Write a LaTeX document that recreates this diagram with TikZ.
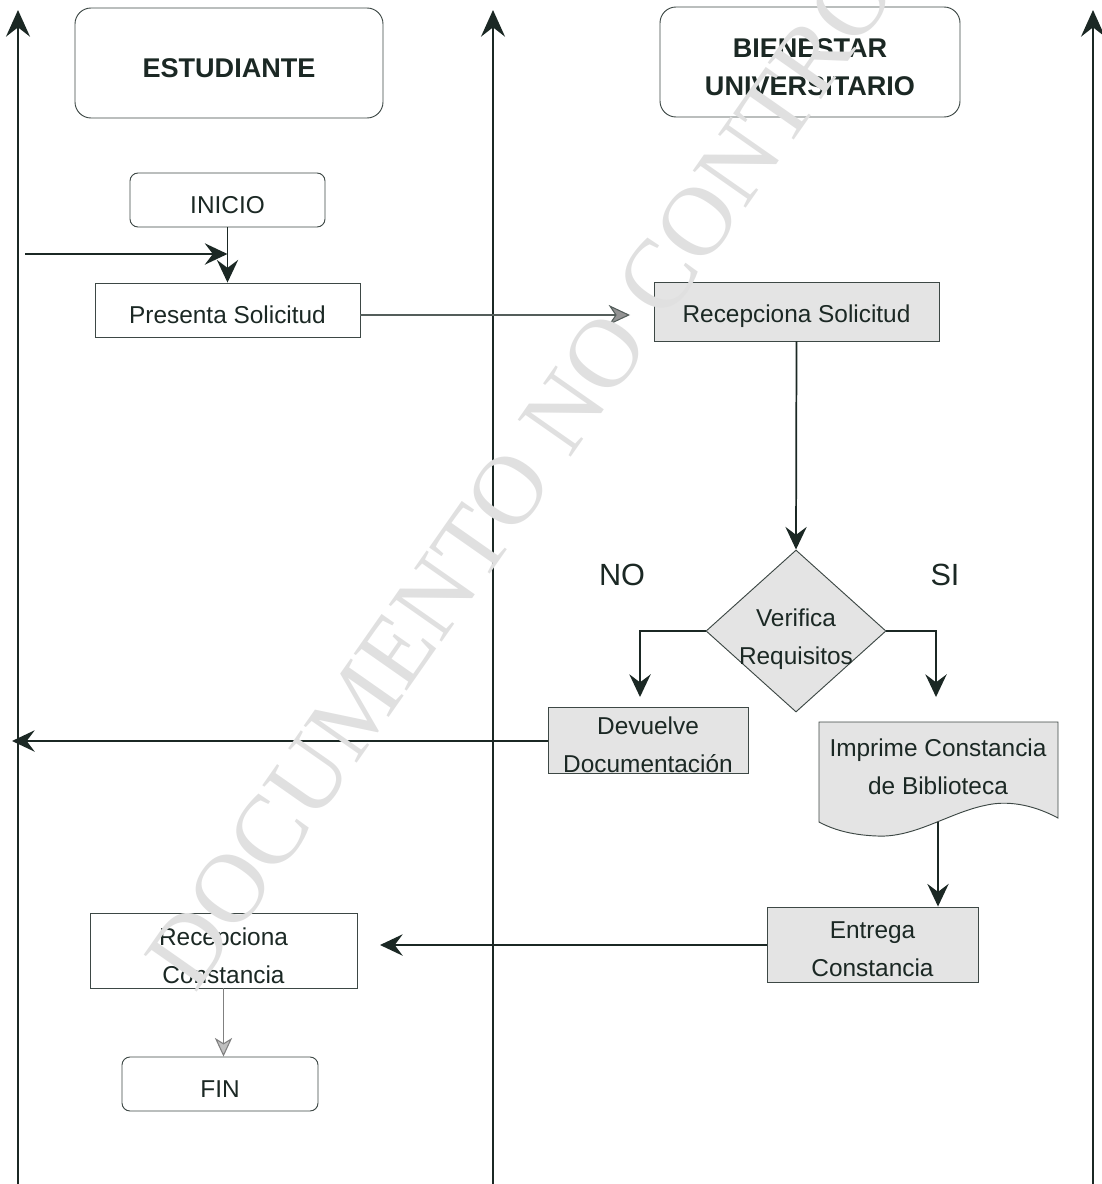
\documentclass[tikz,border=0pt]{standalone}
\usepackage{fontspec}
\setmainfont{Liberation Sans}
\newfontfamily\wmfont{Liberation Serif}
\usetikzlibrary{arrows.meta,shapes.geometric}
\definecolor{ink}{HTML}{1B2824}
\definecolor{boxgray}{HTML}{E4E4E4}
\definecolor{wmgray}{HTML}{E0E0E0}
\begin{document}
\begin{tikzpicture}[x=0.75pt,y=-0.75pt,
  txt/.style={font=\fontsize{18.3}{28.5}\selectfont, align=center, text=ink},
  intext/.style={txt, inner sep=0pt, yshift=-3.8pt},
  plainbox/.style={draw=ink!85, line width=0.7pt, fill=white, inner sep=0pt},
  graybox/.style={plainbox, fill=boxgray},
  roundbox/.style={plainbox, rounded corners=6pt},
  headbox/.style={plainbox, rounded corners=12pt, minimum height=82.5pt},
  headtext/.style={intext, font=\bfseries\fontsize{20.3}{28.5}\selectfont},
  flow/.style={draw=ink, line width=1.3pt, -{Stealth[length=17pt,width=16pt,inset=6pt]}},
  lane/.style={draw=ink, line width=1.6pt, -{Stealth[length=20pt,width=18pt,inset=7pt]}},
  lightflow/.style={draw=ink!75, line width=0.8pt, -{Stealth[length=16pt,width=15pt,inset=5pt,fill=gray!85]}},
  paleflow/.style={draw=gray, line width=0.8pt, -{Stealth[length=14pt,width=13pt,inset=4pt,fill=gray!50]}},
  wm/.style={font=\wmfont\fontsize{74}{74}\selectfont, text=wmgray, inner sep=0pt}]

\useasboundingbox (0,0) rectangle (1101,1184);

% swimlane boundaries
\coordinate (l1b) at (18,1184);   \coordinate (l1t) at (18,10);
\coordinate (l2b) at (493,1184);  \coordinate (l2t) at (493,10);
\coordinate (l3b) at (1093,1184); \coordinate (l3t) at (1093,10);
\draw[lane] (l1b) -- (l1t);
\draw[lane] (l2b) -- (l2t);
\draw[lane] (l3b) -- (l3t);

% lane headers
\node[headbox, minimum width=231pt, label={[headtext]center:ESTUDIANTE}] (est) at (229,63) {};
\node[headbox, minimum width=225pt, label={[headtext]center:BIENESTAR\\UNIVERSITARIO}] (bien) at (810,62) {};

% student lane
\node[roundbox, minimum width=146.25pt, minimum height=40.5pt,
      label={[intext]center:INICIO}] (ini) at (227.5,200) {};
\node[plainbox, minimum width=198.75pt, minimum height=40.5pt,
      label={[intext]center:Presenta Solicitud}] (pres) at (227.5,310) {};
\node[plainbox, minimum width=200.25pt, minimum height=56.25pt,
      label={[intext]center:Recepciona\\Constancia}] (recc) at (223.5,950.5) {};
\node[roundbox, minimum width=147pt, minimum height=40.5pt,
      label={[intext]center:FIN}] (fin) at (220,1084) {};

% welfare office lane
\node[graybox, minimum width=213.75pt, minimum height=44.25pt,
      label={[intext]center:Recepciona Solicitud}] (recs) at (796.5,311.5) {};
\node[graybox, diamond, minimum width=135pt, minimum height=121.5pt,
      label={[intext, yshift=-2pt]center:Verifica\\Requisitos}] (dia) at (796,631) {};
\node[txt, font=\fontsize{23}{28}\selectfont] (no) at (622,575) {NO};
\node[txt, font=\fontsize{23}{28}\selectfont] (si) at (945,575) {SI};
\node[graybox, minimum width=150pt, minimum height=49.5pt,
      label={[intext]center:Devuelve\\Documentación}] (dev) at (648,740) {};

% printed document
\draw[draw=ink!85, line width=0.7pt, fill=boxgray]
  (819,722) -- (1058,722) -- (1058,818)
  .. controls (1030,803) and (1005,801) .. (987,805)
  .. controls (950,812) and (915,838) .. (877,836)
  .. controls (850,835) and (832,829) .. (819,822) -- cycle;
\node[txt] (imp) at (938,767) {Imprime Constancia\\de Biblioteca};
\coordinate (impb) at (938,822);

\node[graybox, minimum width=158.25pt, minimum height=56.25pt,
      label={[intext]center:Entrega\\Constancia}] (ent) at (872.5,944.5) {};

% connectors
\coordinate (inl) at (25,254);
\draw[flow] (ini.south) -- (pres.north);
\draw[flow] (inl) -- (inl -| ini.south);
\coordinate (rsend) at (630,315);
\draw[lightflow] (pres.east |- rsend) -- (rsend);
\draw[flow] (recs.south) -- (dia.north);
\coordinate (noend) at (640,697);
\coordinate (siend) at (936,697);
\draw[flow] (dia.west) -| (noend);
\draw[flow] (dia.east) -| (siend);
\coordinate (devend) at (12,741);
\draw[flow] (dev.west |- devend) -- (devend);
\draw[flow] (impb) -- (impb |- ent.north);
\coordinate (entend) at (380,945);
\draw[flow] (ent.west |- entend) -- (entend);
\draw[paleflow] (recc.south) -- (recc.south |- fin.north);

% watermark
\begin{scope}
  \clip (0,0) rectangle (1101,1184);
  \node[wm, anchor=base west, rotate=55] (mark) at (195,995) {DOCUMENTO NO CONTROLADO};
\end{scope}
\end{tikzpicture}
\end{document}
